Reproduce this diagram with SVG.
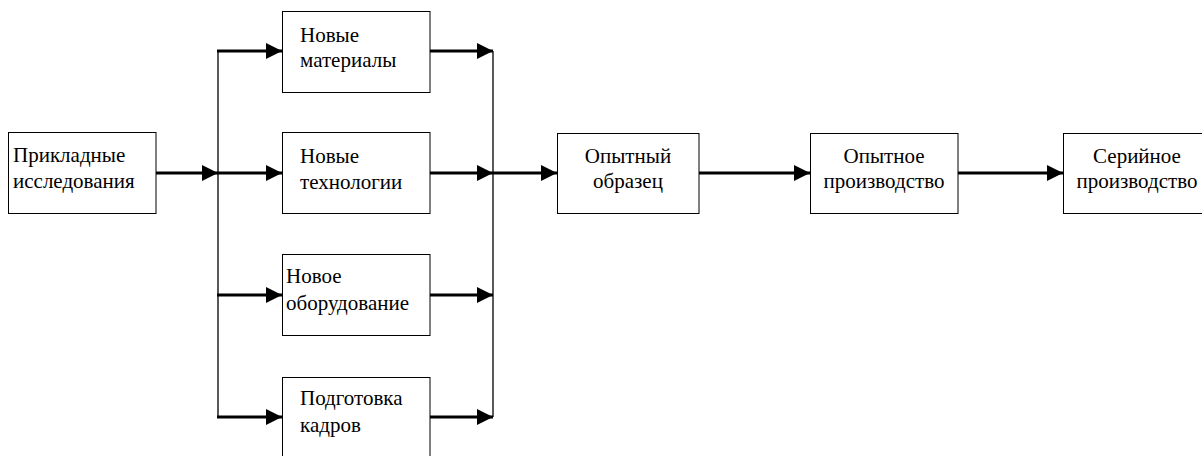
<svg xmlns="http://www.w3.org/2000/svg" width="1202" height="456" viewBox="0 0 1202 456" font-family="Liberation Serif, serif">
<style>
.box{fill:#fff;stroke:#000;stroke-width:1}
.t{font-size:21px;fill:#000}
.c{text-anchor:middle}
.arr{stroke:#000;stroke-width:3;fill:none;marker-end:url(#ah)}
.bus{stroke:#000;stroke-width:1.3;fill:none}
</style>
<defs>
<marker id="ah" markerUnits="userSpaceOnUse" markerWidth="16" markerHeight="16" refX="16" refY="8" orient="auto">
<path d="M0,0 L16,8 L0,16 Z" fill="#000"/>
</marker>
</defs>
<rect width="1202" height="456" fill="#fff"/>
<g id="connectors">
<line class="bus" x1="218" y1="51" x2="218" y2="417"/>
<line class="bus" x1="493" y1="51" x2="493" y2="417"/>
<line class="arr" x1="156" y1="173" x2="218" y2="173"/>
<line class="arr" x1="217" y1="51" x2="282" y2="51"/>
<line class="arr" x1="217" y1="173" x2="282" y2="173"/>
<line class="arr" x1="217" y1="295" x2="282" y2="295"/>
<line class="arr" x1="217" y1="417" x2="282" y2="417"/>
<line class="arr" x1="430" y1="51" x2="493" y2="51"/>
<line class="arr" x1="430" y1="173" x2="493" y2="173"/>
<line class="arr" x1="430" y1="295" x2="493" y2="295"/>
<line class="arr" x1="430" y1="417" x2="493" y2="417"/>
<line class="arr" x1="493" y1="173" x2="557" y2="173"/>
<line class="arr" x1="699" y1="173" x2="810" y2="173"/>
<line class="arr" x1="958" y1="173" x2="1063" y2="173"/>
</g>
<g id="n1">
<rect class="box" x="8.5" y="132.5" width="147.5" height="81"/>
<text class="t" x="13" y="162">Прикладные</text>
<text class="t" x="13" y="188">исследования</text>
</g>
<g id="n2">
<rect class="box" x="282.5" y="11.5" width="147.5" height="81"/>
<text class="t" x="300" y="42">Новые</text>
<text class="t" x="300" y="67">материалы</text>
</g>
<g id="n3">
<rect class="box" x="282.5" y="132.5" width="147.5" height="81"/>
<text class="t" x="300" y="163">Новые</text>
<text class="t" x="300" y="189">технологии</text>
</g>
<g id="n4">
<rect class="box" x="282.5" y="254.5" width="147.5" height="81"/>
<text class="t" x="286" y="283">Новое</text>
<text class="t" x="286" y="310">оборудование</text>
</g>
<g id="n5">
<rect class="box" x="282.5" y="377.5" width="147.5" height="81"/>
<text class="t" x="300" y="405">Подготовка</text>
<text class="t" x="300" y="432">кадров</text>
</g>
<g id="n6">
<rect class="box" x="557.5" y="133.5" width="141.5" height="80"/>
<text class="t c" x="628" y="163">Опытный</text>
<text class="t c" x="628" y="188">образец</text>
</g>
<g id="n7">
<rect class="box" x="810.5" y="133.5" width="147.5" height="80"/>
<text class="t c" x="884" y="163">Опытное</text>
<text class="t c" x="884" y="188">производство</text>
</g>
<g id="n8">
<rect class="box" x="1063.5" y="133.5" width="147.5" height="80"/>
<text class="t c" x="1137" y="163">Серийное</text>
<text class="t c" x="1137" y="188">производство</text>
</g>
</svg>
